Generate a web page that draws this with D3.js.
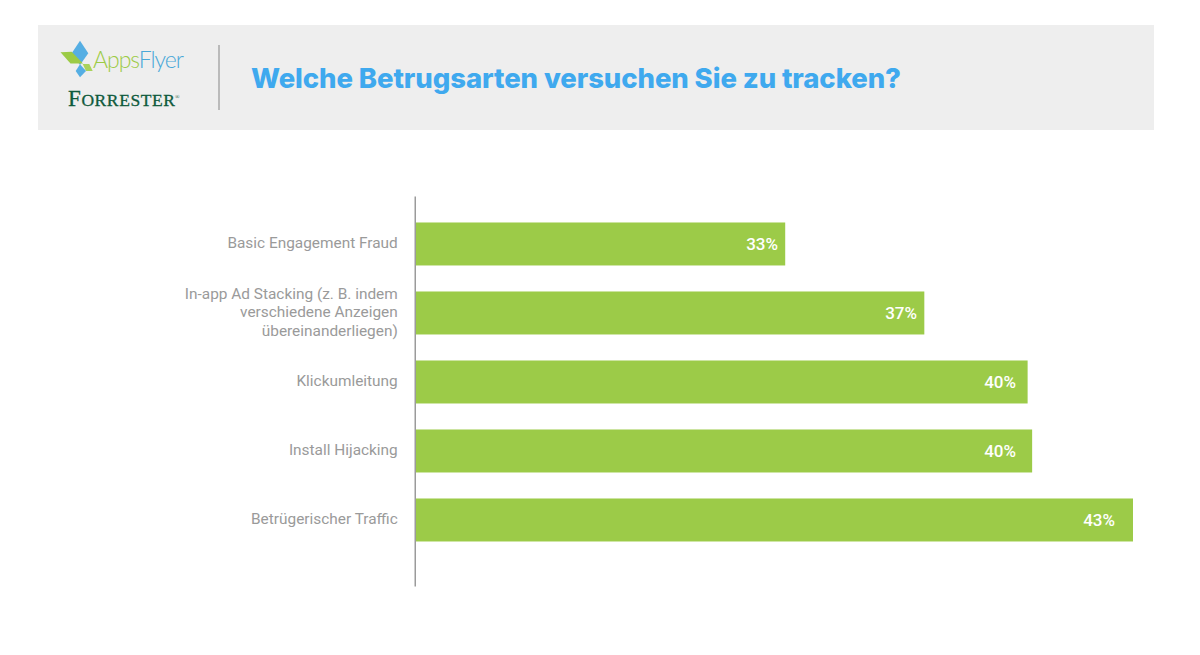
<!DOCTYPE html>
<html>
<head>
<meta charset="utf-8">
<script src="https://cdn.jsdelivr.net/npm/d3@7"></script>
<style>
	html, body { margin: 0; padding: 0; background: #fff; }
	svg { display: block; }
</style>
</head>
<body>
<div id="chart"></div>
<script>
var titleText = "Welche Betrugsarten versuchen Sie zu tracken?";

var categories = [
	"Basic Engagement Fraud",
	"In-app Ad Stacking (z. B. indem verschiedene Anzeigen übereinanderliegen)",
	"Klickumleitung",
	"Install Hijacking",
	"Betrügerischer Traffic"
];

// bars in the source are not all the same length for the same printed percent
var barValues = [33, 37, 39.97, 40.1, 43];
var printedValues = [33, 37, 40, 40, 43];

// how the long label breaks over lines
var labelLines = [
	["Basic Engagement Fraud"],
	["In-app Ad Stacking (z. B. indem", "verschiedene Anzeigen", "übereinanderliegen)"],
	["Klickumleitung"],
	["Install Hijacking"],
	["Betrügerischer Traffic"]
];

var width = 1200,
	height = 655;

var svg = d3.select("#chart")
	.append("svg")
	.attr("width", width)
	.attr("height", height);

// header band
var header = svg.append("g").attr("class", "header");

header.append("rect")
	.attr("x", 38)
	.attr("y", 25)
	.attr("width", 1116)
	.attr("height", 105)
	.attr("fill", "#eeeeee");

header.append("line")
	.attr("x1", 219)
	.attr("y1", 45)
	.attr("x2", 219)
	.attr("y2", 110)
	.attr("stroke", "#a9a9a9")
	.attr("stroke-width", 1.5);

header.append("text")
	.attr("x", 251)
	.attr("y", 88)
	.attr("font-family", "Inter, 'Open Sans', sans-serif")
	.attr("font-weight", 800)
	.attr("font-size", 27.5)
	.attr("textLength", 650)
	.attr("lengthAdjust", "spacing")
	.attr("fill", "#3fa9ee")
	.text(titleText);

// AppsFlyer logo
var logo = header.append("g").attr("class", "logo");

var logoShapes = [
	{ d: "M80,40.7L88.3,53.3L80,65L71.7,53.3Z", fill: "#55aee3" },
	{ d: "M60.5,52.3L71.7,51.7L83,63.5L70.5,63.5Z", fill: "#9ccb45" },
	{ d: "M82.7,64L89.3,64L92.7,71L86,71Z", fill: "#a9d25a" },
	{ d: "M80,64.3L86,71L80,77.3L75.7,71Z", fill: "#55aee3" }
];

logo.selectAll("path")
	.data(logoShapes)
	.enter()
	.append("path")
	.attr("d", function(d) { return d.d; })
	.attr("fill", function(d) { return d.fill; });

var logoText = logo.append("text")
	.attr("x", 93)
	.attr("y", 68)
	.attr("font-family", "Lato, sans-serif")
	.attr("font-weight", 300)
	.attr("font-size", 23)
	.attr("textLength", 91);

logoText.append("tspan").attr("fill", "#9ccb45").text("Apps");
logoText.append("tspan").attr("fill", "#4aa8d8").text("Flyer");

var forrester = logo.append("text")
	.attr("x", 68)
	.attr("y", 105.5)
	.attr("font-family", "'Liberation Serif', serif")
	.attr("textLength", 107)
	.attr("stroke", "#0f5a3c")
	.attr("stroke-width", 0.3)
	.attr("fill", "#0f5a3c");

forrester.append("tspan").attr("font-size", 23).text("F");
forrester.append("tspan").attr("font-size", 17.5).text("ORRESTER");

logo.append("text")
	.attr("x", 175)
	.attr("y", 99)
	.attr("font-family", "'Liberation Serif', serif")
	.attr("font-size", 6)
	.attr("fill", "#0f5a3c")
	.text("®");

// bar chart
var x = d3.scaleLinear()
	.domain([22.37, 43])
	.range([415.5, 1133]);

// printed percents sit on their own line, not at a fixed distance from the bar end
var labelX = d3.scaleLinear()
	.domain([33, 37, 43])
	.range([778, 917, 1115]);

var y = d3.scaleBand()
	.domain(categories)
	.range([196, 586])
	.paddingInner(0.377)
	.paddingOuter(0.5145)
	.align(0.373);

var rows = categories.map(function(c, i) {
	return { category: c, value: barValues[i], printed: printedValues[i], lines: labelLines[i] };
});

svg.append("g")
	.attr("class", "bars")
	.selectAll("rect")
	.data(rows)
	.enter()
	.append("rect")
	.attr("x", x.range()[0])
	.attr("y", function(d) { return y(d.category); })
	.attr("width", function(d) { return x(d.value) - x.range()[0]; })
	.attr("height", y.bandwidth())
	.attr("fill", "#9ccb48");

var axis = svg.append("g")
	.attr("class", "axis")
	.attr("transform", "translate(" + (x.range()[0] - 0.75) + ",0)")
	.call(d3.axisLeft(y).tickSize(0).tickSizeOuter(0).tickFormat(""));

axis.select(".domain")
	.attr("stroke", "#9b9b9b")
	.attr("stroke-width", 1.5);

var lineHeight = 18.5;

axis.selectAll(".tick text").remove();

axis.selectAll(".tick")
	.append("text")
	.attr("x", -17)
	.attr("text-anchor", "end")
	.attr("font-family", "Roboto, sans-serif")
	.attr("font-size", 15.4)
	.attr("fill", "#9a9a9a")
	.each(function(d, i) {
		var lines = labelLines[i];
		var t = d3.select(this);
		lines.forEach(function(line, k) {
			t.append("tspan")
				.attr("x", -17)
				.attr("y", (k - (lines.length - 1) / 2) * lineHeight - 0.5)
				.attr("dy", "0.32em")
				.text(line);
		});
	});

svg.append("g")
	.attr("class", "values")
	.selectAll("text")
	.data(rows)
	.enter()
	.append("text")
	.attr("x", function(d) { return labelX(d.printed); })
	.attr("y", function(d) { return y(d.category) + y.bandwidth() / 2; })
	.attr("dy", "0.35em")
	.attr("text-anchor", "end")
	.attr("font-family", "Roboto, sans-serif")
	.attr("font-weight", 500)
	.attr("font-size", 17)
	.attr("fill", "#ffffff")
	.text(function(d) { return d.printed + "%"; });
</script>
</body>
</html>
